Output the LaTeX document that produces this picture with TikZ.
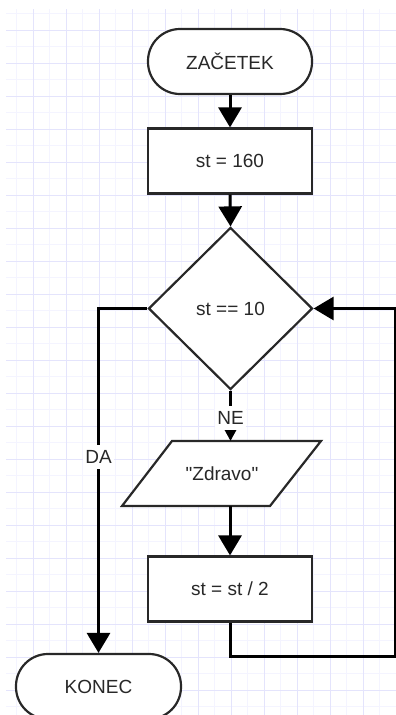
\documentclass[tikz,border=0pt]{standalone}
\usepackage{fontspec}
\setmainfont{Liberation Sans}[Ligatures=TeXOff]
\usetikzlibrary{shapes.geometric,arrows.meta}
\definecolor{gminor}{RGB}{244,244,255}
\definecolor{gmajor}{RGB}{228,228,252}
\definecolor{ink}{RGB}{40,40,40}
\begin{document}
\begin{tikzpicture}[x=1pt,y=-1pt,
  txt/.style={text=ink,font=\fontsize{19}{23}\selectfont},
  shp/.style={txt,draw=ink,line width=2.2pt,fill=white,inner sep=0pt},
  term/.style={shp,rounded corners=32pt,minimum width=164pt,minimum height=65pt},
  proc/.style={shp,minimum width=164pt,minimum height=65pt},
  dec/.style={shp,diamond,minimum width=164pt,minimum height=162pt},
  conn/.style={line width=3pt,black,-{Triangle[length=20pt,width=23pt]}},
  connsmall/.style={line width=3pt,black,-{Triangle[length=11pt,width=11pt]}},
  lbl/.style={txt,fill=white,inner xsep=2pt,inner ysep=5.5pt}]
\useasboundingbox (0,0) rectangle (396,715);
% grid
\begin{scope}
  \clip (6,9) rectangle (396,715);
  \foreach \k in {0,...,11} \draw[gminor,line width=1pt] ({16.5+33*\k},9) -- ({16.5+33*\k},715);
  \foreach \k in {0,...,21} \draw[gminor,line width=1pt] (6,{13.5+33*\k}) -- (396,{13.5+33*\k});
  \foreach \k in {1,...,12} \draw[gmajor,line width=1pt] ({33*\k},9) -- ({33*\k},715);
  \foreach \k in {0,...,21} \draw[gmajor,line width=1pt] (6,{30+33*\k}) -- (396,{30+33*\k});
\end{scope}
% nodes
\node[term] (s) at (230,61.5) {ZAČETEK};
\node[proc] (p1) at (230,161) {st = 160};
\node[dec] (d) at (230.5,308.5) {st == 10};
\coordinate (zTL) at (172,441);
\coordinate (zTR) at (321,441);
\coordinate (zBR) at (270,506);
\coordinate (zBL) at (122,506);
\draw[draw=ink,line width=2.2pt,fill=white] (zTL) -- (zTR) -- (zBR) -- (zBL) -- cycle;
\node[txt] (z) at (222,474) {"Zdravo"};
\node[proc] (p2) at (230,589) {st = st / 2};
\node[term,minimum width=165pt] (k) at (98.5,686.5) {KONEC};
\coordinate (lc) at (395,656);
% connectors
\draw[conn] (s.south) -- (p1.north);
\draw[conn] (p1.south) -- (d.north);
\draw[connsmall] (d.south) -- (d.south |- zTL) node[lbl,pos=0.54] {NE};
\draw[conn] (p2.north |- zBL) -- (p2.north);
\draw[conn] (d.west) -| (k.north) node[lbl,pos=0.715] {DA};
\draw[conn] (p2.south) |- (lc) |- (d.east);
\end{tikzpicture}
\end{document}
